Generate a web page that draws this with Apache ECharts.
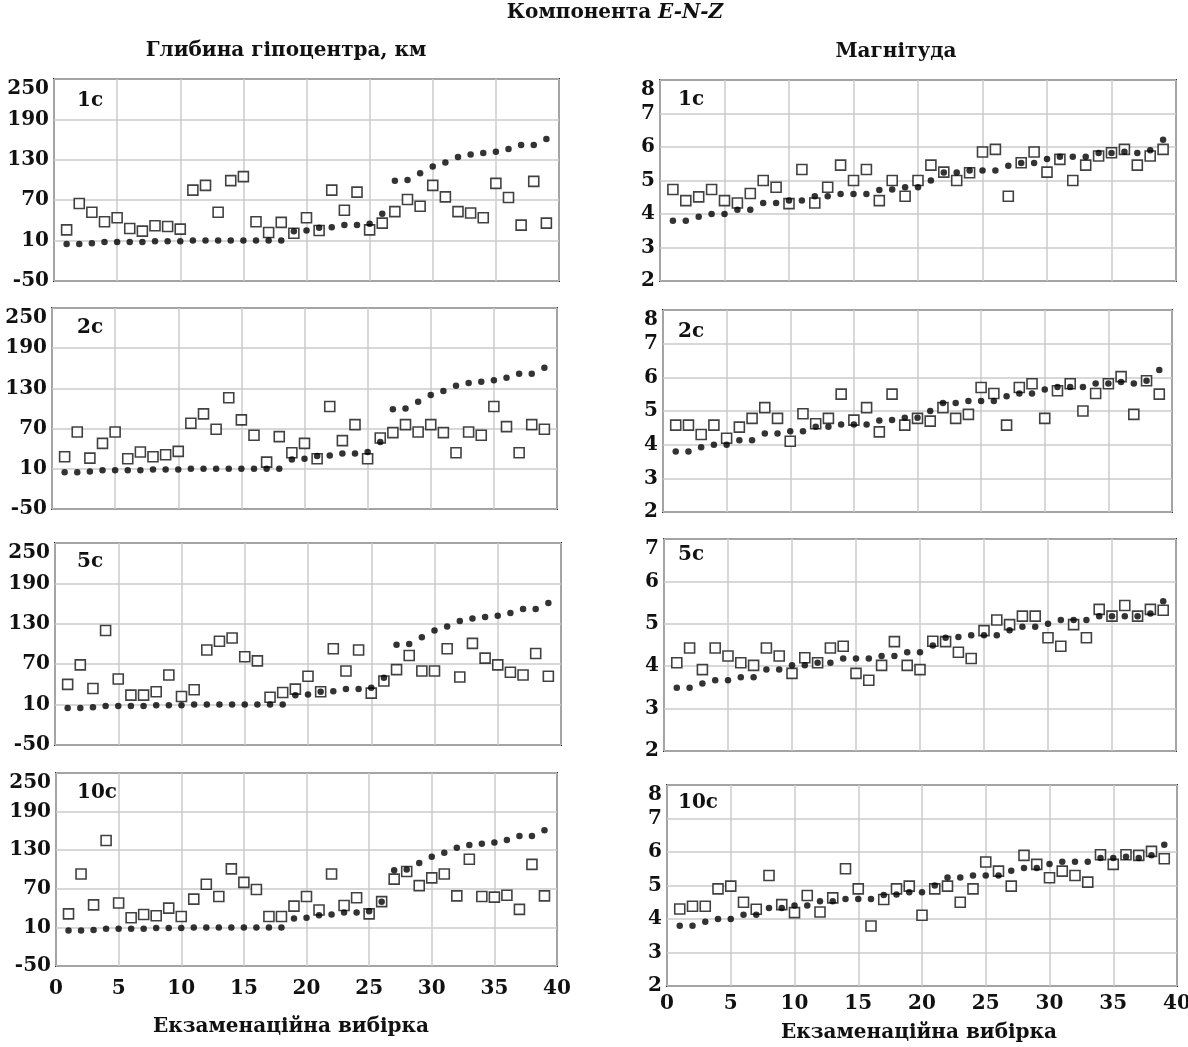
<!DOCTYPE html>
<html><head><meta charset="utf-8">
<script src="https://cdn.jsdelivr.net/npm/echarts@6/dist/echarts.min.js"></script>
<style>html,body{margin:0;padding:0;background:#fff}#c{width:1188px;height:1047px}</style>
</head><body><div id="c"></div>
<script>
const sampleNo = [1,2,3,4,5,6,7,8,9,10,11,12,13,14,15,16,17,18,19,20,21,22,23,24,25,26,27,28,29,30,31,32,33,34,35,36,37,38,39];
const xTicks = [0,5,10,15,20,25,30,35,40];
const depthTicks = [-50,10,70,130,190,250];
const magTicks = [2,3,4,5,6,7,8];
const magTicks5 = [2,3,4,5,6,7];
const panelNames = ['1с','2с','5с','10с'];

// actual (filled dots)
const depthActual = [5,5,6,8,8,8,8,9,9,9,10,10,10,10,10,10,10,10,24,25,29,30,33,33,35,50,99,100,110,120,126,134,138,140,142,146,152,152,161];
const magActual = [3.8,3.8,3.92,4.0,4.0,4.13,4.13,4.33,4.33,4.4,4.4,4.53,4.53,4.6,4.6,4.6,4.72,4.73,4.8,4.8,5.0,5.24,5.24,5.3,5.3,5.3,5.44,5.52,5.52,5.64,5.71,5.71,5.71,5.82,5.82,5.86,5.82,5.9,6.22];
const magActual5 = [3.49,3.49,3.59,3.67,3.67,3.74,3.74,3.92,3.92,4.02,4.02,4.08,4.08,4.18,4.18,4.18,4.24,4.24,4.33,4.33,4.49,4.67,4.69,4.73,4.73,4.73,4.85,4.93,4.93,5.0,5.09,5.09,5.09,5.18,5.18,5.18,5.18,5.24,5.53];

// predicted (hollow squares)
const depthPred1 = [26,65,52,38,44,28,24,32,31,27,85,92,52,99,105,38,22,37,21,44,25,85,55,82,26,36,53,71,61,92,75,53,51,44,95,74,33,98,36];
const depthPred2 = [28,65,26,48,65,25,35,28,31,36,78,92,69,116,83,60,20,58,34,48,25,103,52,76,25,56,64,76,65,76,64,34,65,60,103,73,34,76,69];
const depthPred5 = [40,69,34,120,48,24,24,29,54,22,32,91,104,109,81,75,21,28,33,52,29,93,60,91,27,45,62,83,60,60,93,51,101,79,69,58,54,86,52];
const depthPred10 = [31,93,45,145,48,25,30,28,40,27,54,77,58,101,80,69,27,27,43,58,37,93,44,56,31,50,85,97,75,87,93,59,116,58,57,60,38,108,59];
const magPred1 = [4.73,4.4,4.51,4.73,4.4,4.33,4.61,5.0,4.8,4.31,5.33,4.33,4.8,5.46,5.0,5.33,4.4,5.0,4.53,5.0,5.46,5.25,5.0,5.23,5.85,5.93,4.53,5.53,5.85,5.25,5.63,5.0,5.46,5.73,5.83,5.93,5.46,5.73,5.93];
const magPred2 = [4.58,4.58,4.3,4.58,4.19,4.52,4.78,5.1,4.78,4.1,4.92,4.62,4.78,5.5,4.73,5.1,4.38,5.5,4.58,4.78,4.7,5.1,4.78,4.9,5.7,5.52,4.58,5.7,5.81,4.78,5.6,5.81,5.0,5.52,5.81,6.02,4.9,5.9,5.5];
const magPred5 = [4.08,4.43,3.92,4.43,4.24,4.08,4.02,4.43,4.24,3.83,4.2,4.08,4.43,4.47,3.83,3.67,4.02,4.58,4.02,3.92,4.59,4.58,4.33,4.18,4.84,5.09,4.98,5.18,5.18,4.67,4.47,4.98,4.67,5.34,5.18,5.43,5.18,5.34,5.32];
const magPred10 = [4.3,4.38,4.38,4.9,4.98,4.5,4.29,5.3,4.43,4.19,4.7,4.21,4.63,5.5,4.9,3.79,4.58,4.9,4.98,4.11,4.9,4.98,4.5,4.9,5.7,5.43,4.98,5.9,5.63,5.23,5.43,5.3,5.1,5.92,5.63,5.92,5.9,6.02,5.8];

const FONT = "'DejaVu Serif', serif";
const INK = '#111';
// layout: [left, top, width, height]
const panels = [
  {box:[54,79,505,202],  ticks:depthTicks, actual:depthActual, pred:depthPred1,  name:panelNames[0], bottom:false},
  {box:[52,308,505,201], ticks:depthTicks, actual:depthActual, pred:depthPred2,  name:panelNames[1], bottom:false},
  {box:[55,543,506,202], ticks:depthTicks, actual:depthActual, pred:depthPred5,  name:panelNames[2], bottom:false},
  {box:[56,773,501,193], ticks:depthTicks, actual:depthActual, pred:depthPred10, name:panelNames[3], bottom:true, lblMargin:13},
  {box:[660,80,516,201], ticks:magTicks,   actual:magActual,   pred:magPred1,    name:panelNames[0], bottom:false},
  {box:[663,310,509,202],ticks:magTicks,   actual:magActual,   pred:magPred2,    name:panelNames[1], bottom:false},
  {box:[664,539,512,212],ticks:magTicks5,  actual:magActual5,  pred:magPred5,    name:panelNames[2], bottom:false},
  {box:[667,785,510,201],ticks:magTicks,   actual:magActual,   pred:magPred10,   name:panelNames[3], bottom:true, lblMargin:8}
];
const nameLblPos = [[77,101],[77,328],[77,562],[77,793],[678,100],[678,332],[678,555],[678,803]];

const pair = (arr) => arr.map((v,i)=>[sampleNo[i], v]);

const option = {
  backgroundColor:'#fff',
  animation:false,
  grid: panels.map(p=>({left:p.box[0], top:p.box[1], width:p.box[2], height:p.box[3], show:true,
    borderColor:'#333', borderWidth:2, backgroundColor:'transparent', containLabel:false, outerBoundsMode:'none'})),
  xAxis: panels.map((p,i)=>({gridIndex:i, type:'value', min:xTicks[0], max:xTicks[xTicks.length-1], interval:xTicks[1]-xTicks[0],
    axisLine:{show:false}, axisTick:{show:false},
    splitLine:{show:true, lineStyle:{color:'#cbcbcb', width:1.5}},
    axisLabel:{show:p.bottom, margin:p.lblMargin||8, fontFamily:FONT, fontWeight:'bold', fontSize:20, color:INK}})),
  yAxis: panels.map((p,i)=>({gridIndex:i, type:'value', min:p.ticks[0], max:p.ticks[p.ticks.length-1], interval:p.ticks[1]-p.ticks[0],
    axisLine:{show:false}, axisTick:{show:false},
    splitLine:{show:true, lineStyle:{color:'#cbcbcb', width:1.5}},
    axisLabel:{show:true, margin:5, fontFamily:FONT, fontWeight:'bold', fontSize:20, color:INK, verticalAlignMaxLabel:'top'}})),
  series: [],
  graphic: []
};
panels.forEach((p,i)=>{
  option.series.push({type:'scatter', xAxisIndex:i, yAxisIndex:i, data:pair(p.pred), symbol:'rect', symbolSize:10,
    itemStyle:{color:'#fff', borderColor:'#111', borderWidth:1.6}, z:2, silent:true});
  option.series.push({type:'scatter', xAxisIndex:i, yAxisIndex:i, data:pair(p.actual), symbol:'circle', symbolSize:6.5,
    itemStyle:{color:'#000'}, z:3, silent:true});
  option.graphic.push({type:'text', z:10, style:{text:p.name, x:nameLblPos[i][0], y:nameLblPos[i][1], align:'left', verticalAlign:'middle',
    fontFamily:FONT, fontWeight:'bold', fontSize:20, fill:INK}});
});
const headText = (text, x, y, size) => ({type:'text', z:10, style:{text, x, y, align:'center', verticalAlign:'middle',
  fontFamily:FONT, fontWeight:'bold', fontSize:size, fill:INK, rich:{i:{fontFamily:FONT, fontWeight:'bold', fontStyle:'italic', fontSize:size, fill:INK}}}});
option.graphic.push(headText('Компонента {i|E-N-Z}', 615, 13, 20));
option.graphic.push(headText('Глибина гіпоцентра, км', 286, 51, 20));
option.graphic.push(headText('Магнітуда', 896, 52, 20));
option.graphic.push(headText('Екзаменаційна вибірка', 291, 1027, 20));
option.graphic.push(headText('Екзаменаційна вибірка', 919, 1033, 20));

echarts.init(document.getElementById('c'), null, {renderer:'canvas'}).setOption(option);
</script></body></html>
